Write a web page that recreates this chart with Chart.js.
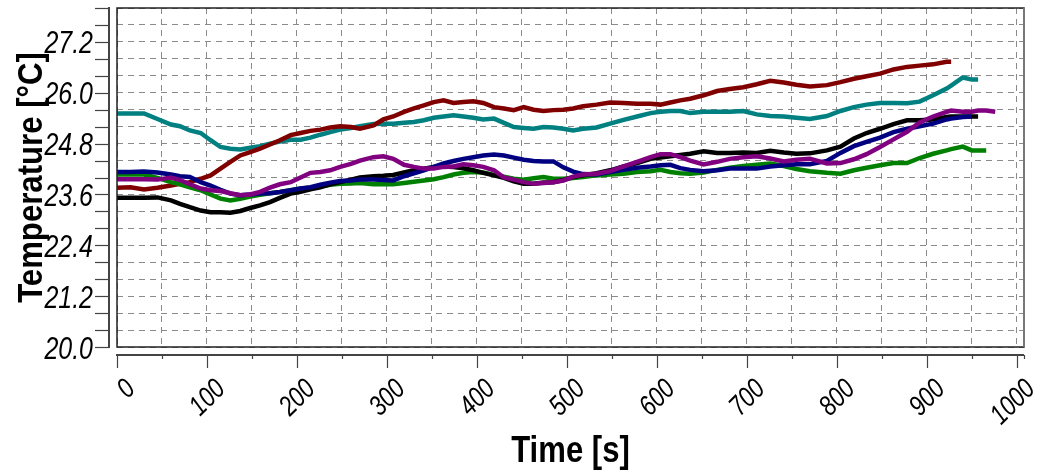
<!DOCTYPE html>
<html>
<head>
<meta charset="utf-8">
<title>Temperature vs time</title>
<script src="https://cdn.jsdelivr.net/npm/chart.js@4.4.1/dist/chart.umd.min.js"></script>
<style>
  body { margin: 0; background: #fff; }
  canvas { display: block; }
</style>
</head>
<body>
<canvas id="tempChart" width="1038" height="473"></canvas>
<script>
// time stamps [s]
var times = [0, 15, 30, 45, 60, 70, 81, 93, 104, 115,
  126, 137, 148, 159, 170, 181, 193, 204, 215, 226,
  237, 248, 260, 270, 285, 296, 307, 319, 330, 341,
  352, 363, 374, 385, 396, 407, 419, 430, 441, 452,
  463, 474, 485, 496, 507, 518, 533, 548, 563, 578,
  593, 604, 615, 626, 637, 652, 667, 681, 696, 711,
  726, 741, 755, 770, 789, 804, 819, 833, 848, 863,
  878, 892, 907, 922, 927, 940, 950, 957, 966, 976];

var tDarkRed = [23.76, 23.77, 23.72, 23.76, 23.81, 23.85, 23.89, 23.97, 24.05, 24.21,
  24.37, 24.52, 24.60, 24.68, 24.78, 24.88, 25.00, 25.05, 25.10, 25.13,
  25.18, 25.21, 25.19, 25.15, 25.23, 25.37, 25.44, 25.55, 25.63, 25.70,
  25.78, 25.82, 25.76, 25.78, 25.80, 25.76, 25.66, 25.63, 25.59, 25.66,
  25.60, 25.57, 25.59, 25.60, 25.63, 25.68, 25.72, 25.77, 25.76, 25.74,
  25.74, 25.72, 25.77, 25.82, 25.86, 25.94, 26.04, 26.09, 26.13, 26.20,
  26.28, 26.24, 26.19, 26.15, 26.18, 26.25, 26.33, 26.39, 26.45, 26.55,
  26.61, 26.64, 26.67, 26.73, 26.73, null, null, null, null, null];

var tTeal = [25.51, 25.51, 25.51, 25.38, 25.25, 25.21, 25.11, 25.05, 24.88, 24.72,
  24.68, 24.66, 24.70, 24.74, 24.80, 24.85, 24.89, 24.89, 24.94, 25.01,
  25.07, 25.13, 25.17, 25.21, 25.26, 25.27, 25.27, 25.29, 25.31, 25.35,
  25.41, 25.44, 25.47, 25.44, 25.41, 25.37, 25.39, 25.29, 25.19, 25.17,
  25.15, 25.19, 25.18, 25.15, 25.11, 25.15, 25.18, 25.27, 25.36, 25.44,
  25.52, 25.55, 25.57, 25.57, 25.52, 25.55, 25.55, 25.55, 25.57, 25.49,
  25.45, 25.44, 25.41, 25.38, 25.45, 25.57, 25.66, 25.72, 25.76, 25.76,
  25.75, 25.79, 25.94, 26.10, 26.17, 26.36, 26.31, 26.31, null, null];

var tBlack = [23.52, 23.52, 23.52, 23.53, 23.46, 23.38, 23.30, 23.22, 23.18, 23.18,
  23.17, 23.21, 23.28, 23.34, 23.42, 23.52, 23.62, 23.66, 23.72, 23.77,
  23.84, 23.89, 23.95, 24.00, 24.03, 24.04, 24.06, 24.12, 24.17, 24.21,
  24.25, 24.26, 24.25, 24.22, 24.17, 24.11, 24.05, 23.99, 23.91, 23.85,
  23.85, 23.88, 23.89, 23.94, 24.01, 24.05, 24.10, 24.17, 24.26, 24.34,
  24.44, 24.47, 24.50, 24.53, 24.56, 24.62, 24.58, 24.58, 24.59, 24.58,
  24.63, 24.59, 24.56, 24.57, 24.64, 24.73, 24.92, 25.05, 25.15, 25.26,
  25.35, 25.35, 25.37, 25.43, 25.44, 25.44, 25.44, 25.44, null, null];

var tNavy = [24.13, 24.13, 24.14, 24.12, 24.07, 24.03, 24.01, 23.89, 23.81, 23.71,
  23.62, 23.58, 23.60, 23.62, 23.63, 23.66, 23.70, 23.74, 23.77, 23.83,
  23.88, 23.92, 23.93, 23.95, 23.95, 23.94, 23.93, 24.03, 24.10, 24.17,
  24.25, 24.33, 24.39, 24.44, 24.48, 24.52, 24.54, 24.52, 24.47, 24.42,
  24.39, 24.38, 24.38, 24.24, 24.14, 24.08, 24.07, 24.13, 24.18, 24.23,
  24.26, 24.29, 24.30, 24.22, 24.18, 24.15, 24.17, 24.21, 24.21, 24.21,
  24.26, 24.29, 24.31, 24.31, 24.39, 24.58, 24.74, 24.84, 24.94, 25.07,
  25.15, 25.21, 25.27, 25.37, 25.39, 25.43, 25.44, null, null, null];

var tPurple = [23.96, 23.96, 23.96, 23.95, 24.00, 23.94, 23.84, 23.74, 23.70, 23.68,
  23.63, 23.58, 23.60, 23.66, 23.76, 23.84, 23.89, 24.00, 24.11, 24.13,
  24.17, 24.25, 24.32, 24.40, 24.48, 24.50, 24.44, 24.30, 24.25, 24.21,
  24.21, 24.25, 24.26, 24.31, 24.29, 24.25, 24.17, 24.00, 23.95, 23.89,
  23.85, 23.87, 23.89, 23.93, 24.02, 24.07, 24.09, 24.15, 24.26, 24.37,
  24.48, 24.55, 24.55, 24.48, 24.40, 24.31, 24.37, 24.44, 24.48, 24.50,
  24.45, 24.38, 24.42, 24.44, 24.33, 24.34, 24.43, 24.55, 24.72, 24.90,
  25.08, 25.30, 25.44, 25.55, 25.58, 25.55, 25.55, 25.58, 25.58, 25.55];

var tGreen = [24.07, 24.07, 24.07, 23.99, 23.89, 23.84, 23.77, 23.70, 23.60, 23.50,
  23.46, 23.50, 23.55, 23.59, 23.63, 23.66, 23.70, 23.74, 23.76, 23.79,
  23.83, 23.85, 23.86, 23.87, 23.84, 23.84, 23.84, 23.87, 23.90, 23.93,
  23.96, 24.01, 24.07, 24.11, 24.13, 24.12, 24.06, 24.02, 23.97, 23.95,
  23.98, 24.01, 23.97, 23.97, 23.99, 24.01, 24.05, 24.07, 24.09, 24.13,
  24.15, 24.18, 24.13, 24.10, 24.09, 24.12, 24.18, 24.23, 24.27, 24.30,
  24.33, 24.27, 24.20, 24.15, 24.11, 24.09, 24.17, 24.23, 24.29, 24.34,
  24.34, 24.46, 24.56, 24.64, 24.67, 24.73, 24.64, 24.64, 24.64, null];

var yTickLabels = ['20.0', '21.2', '22.4', '23.6', '24.8', '26.0', '27.2'];
var xTickLabels = ['0', '100', '200', '300', '400', '500', '600', '700', '800', '900', '1000'];
var xTitle = 'Time [s]';
var yTitle = 'Temperature [°C]';

var FONT = '"Liberation Sans", Arial, sans-serif';

function serie(label, values, color) {
  return {
    label: label,
    data: values,
    borderColor: color,
    backgroundColor: color,
    borderWidth: 4.5,
    pointRadius: 0,
    tension: 0,
    fill: false
  };
}

// condensed text (no narrow font installed, so squeeze horizontally)
function narrowText(ctx, txt, x, y, rot, squeeze, align) {
  ctx.save();
  ctx.translate(x, y);
  ctx.rotate(rot);
  ctx.scale(squeeze, 1);
  ctx.textAlign = align;
  ctx.fillText(txt, 0, 0);
  ctx.restore();
}

// axes are drawn detached from the plot frame, like the original
var detachedAxes = {
  id: 'detachedAxes',
  afterDraw: function(chart) {
    var ctx = chart.ctx, a = chart.chartArea;
    var xs = chart.scales.x, ys = chart.scales.y;

    function seg(x1, y1, x2, y2) {
      ctx.beginPath();
      ctx.moveTo(x1, y1);
      ctx.lineTo(x2, y2);
      ctx.stroke();
    }

    ctx.save();
    // plot frame
    ctx.strokeStyle = '#222';
    ctx.lineWidth = 1.5;
    ctx.strokeRect(a.left, a.top, a.right - a.left, a.bottom - a.top);
    ctx.strokeStyle = '#777';
    ctx.lineWidth = 2;
    seg(a.right, a.top, a.right, a.bottom);

    // y axis
    ctx.strokeStyle = '#444';
    ctx.lineWidth = 2;
    seg(a.left - 8, a.top - 1, a.left - 8, a.bottom + 1);
    ctx.lineWidth = 1.2;
    ys.ticks.forEach(function(t) {
      var y = Math.round(ys.getPixelForValue(t.value)) + 0.5;
      seg(a.left - 22, y, a.left - 8, y);
    });

    // x axis
    ctx.lineWidth = 2;
    seg(a.left - 1, a.bottom + 8, a.right, a.bottom + 8);
    ctx.lineWidth = 1.2;
    xs.ticks.forEach(function(t) {
      var x = Math.round(xs.getPixelForValue(t.value)) + 0.5;
      var major = t.value % 100 === 0;
      seg(x, a.bottom + 8, x, a.bottom + (major ? 21 : 12));
    });

    ctx.fillStyle = '#000';
    ctx.textBaseline = 'alphabetic';

    // y tick labels
    ctx.font = 'italic 32px ' + FONT;
    yTickLabels.forEach(function(lbl) {
      var y = ys.getPixelForValue(Number(lbl));
      narrowText(ctx, lbl, 93, y + 11.5, 0, 0.78, 'right');
    });

    // rotated x tick labels
    ctx.font = 'italic 28px ' + FONT;
    ctx.textBaseline = 'middle';
    xTickLabels.forEach(function(lbl) {
      var x = xs.getPixelForValue(Number(lbl));
      narrowText(ctx, lbl, x + 14, a.bottom + 38, -Math.PI / 4, 0.8, 'right');
    });

    // axis titles
    ctx.textBaseline = 'alphabetic';
    ctx.font = 'bold 37px ' + FONT;
    narrowText(ctx, xTitle, (a.left + a.right) / 2, 462, 0, 0.84, 'center');
    ctx.font = 'bold 35px ' + FONT;
    narrowText(ctx, yTitle, 42, (a.top + a.bottom) / 2, -Math.PI / 2, 0.89, 'center');

    ctx.restore();
  }
};

var ctx = document.getElementById('tempChart').getContext('2d');
var chart = new Chart(ctx, {
  type: 'line',
  data: {
    labels: times,
    datasets: [
      serie('Series 5', tPurple, '#800080'),
      serie('Series 4', tNavy, '#000080'),
      serie('Series 3', tBlack, '#000000'),
      serie('Series 6', tGreen, '#008000'),
      serie('Series 1', tDarkRed, '#800000'),
      serie('Series 2', tTeal, '#008080')
    ]
  },
  options: {
    responsive: false,
    animation: false,
    devicePixelRatio: 1,
    layout: { padding: { left: 0, right: 14, top: 8, bottom: 0 } },
    plugins: {
      legend: { display: false },
      tooltip: { enabled: false }
    },
    scales: {
      x: {
        type: 'linear',
        min: 0,
        max: 1008,
        bounds: 'data',
        ticks: { display: false, stepSize: 50, includeBounds: false },
        grid: { color: '#8a8a8a', lineWidth: 1, drawTicks: false },
        border: { display: false, dash: [6, 5] },
        afterFit: function(s) {
          s.height = 126;
          s.paddingLeft = 0;
          s.paddingRight = 0;
        }
      },
      y: {
        min: 20,
        max: 28,
        bounds: 'data',
        ticks: { display: false, stepSize: 0.4 },
        grid: { color: '#8a8a8a', lineWidth: 1, drawTicks: false },
        border: { display: false, dash: [6, 5] },
        afterFit: function(s) {
          s.width = 117;
          s.paddingTop = 0;
          s.paddingBottom = 0;
        }
      }
    }
  },
  plugins: [detachedAxes]
});
</script>
</body>
</html>
